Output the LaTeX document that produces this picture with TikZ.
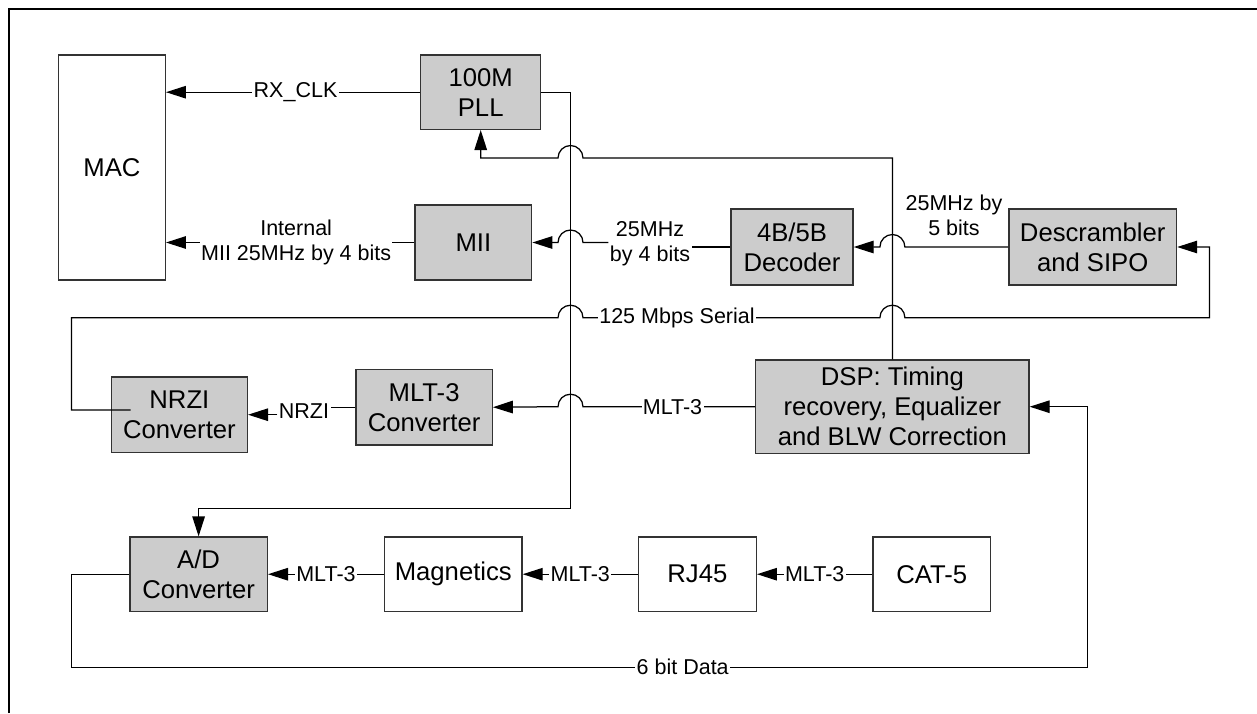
\documentclass[tikz,border=0pt]{standalone}
\usepackage{fontspec}
\setmainfont{Liberation Sans}
\usetikzlibrary{arrows.meta,calc}
\definecolor{boxfill}{HTML}{CCCCCC}
\tikzset{
  gbox/.style={draw=black!80, line width=0.8pt, fill=boxfill, align=center,
    font=\fontsize{15.4}{18}\selectfont, inner sep=0pt},
  wbox/.style={gbox, fill=white},
  conn/.style={line width=0.75pt},
  arr/.style={conn, -{Triangle[length=12pt,width=7.5pt]}},
  lbl/.style={fill=white, inner sep=0.8pt, font=\fontsize{12.9}{15}\selectfont, align=center},
}
\begin{document}
\begin{tikzpicture}[x=0.6pt,y=-0.6pt]
\useasboundingbox (0,0) rectangle (1257,713);
\draw[line width=1.3pt] (8.6,713) -- (8.6,9) -- (1257,9);

% boxes
\node[wbox, minimum width=64.1pt, minimum height=135pt] (mac) at (111.9,167.5) {MAC};
\node[gbox, minimum width=72pt, minimum height=44.6pt] (pll) at (480.7,92.2) {100M\\PLL};
\node[gbox, minimum width=70pt, minimum height=45pt] (mii) at (473.4,242.5) {MII};
\node[gbox, minimum width=73.2pt, minimum height=45.6pt] (dec) at (792,247) {4B/5B\\Decoder};
\node[gbox, minimum width=100.6pt, minimum height=45.6pt] (descr) at (1092.7,247) {Descrambler\\and SIPO};
\node[gbox, minimum width=81.6pt, minimum height=45.2pt] (nrzi) at (179.4,414.7) {NRZI\\Converter};
\node[gbox, minimum width=81.7pt, minimum height=45.4pt] (mlt) at (424.1,407.2) {MLT-3\\Converter};
\node[gbox, minimum width=163.9pt, minimum height=56pt] (dsp) at (892.4,406.7) {DSP: Timing\\recovery, Equalizer\\and BLW Correction};
\node[gbox, minimum width=82.5pt, minimum height=44.6pt] (ad) at (198.6,574.2) {A/D\\Converter};
\node[wbox, minimum width=82.5pt, minimum height=44.6pt] (mag) at (453.3,574.2) {Magnetics};
\node[wbox, minimum width=70.7pt, minimum height=44.6pt] (rj) at (697.4,574.2) {RJ45};
\node[wbox, minimum width=70.4pt, minimum height=44.6pt] (cat) at (931.8,574.2) {CAT-5};

\coordinate (nrziout) at (130.6,410);

% RX_CLK
\draw[arr] (pll.west) -- node[lbl,pos=0.49]{RX\_CLK} (mac.east |- pll.west);
% PLL to A/D
\draw[arr] (pll.east) -| (570.5,508.3) -| (ad.north);
% DSP to PLL
\draw[arr] (dsp.north) |- ($(570.5,158)+(7.5pt,0pt)$) arc[start angle=0,end angle=180,radius=7.5pt] -| (pll.south);
% MII to MAC
\draw[arr] (mii.west) -- node[lbl,pos=0.476]{Internal\\MII 25MHz by 4 bits} (mac.east |- mii.west);
% Decoder to MII
\node[lbl, fill=none] (l4) at (650,244) {25MHz\\by 4 bits};
\draw[conn] (dec.west) -- (dec.west -| l4.east);
\draw[arr] (l4.west |- mii.east) -- ($(570.5,242.5)+(7.5pt,0pt)$) arc[start angle=0,end angle=180,radius=7.5pt] -- (mii.east);
% Descrambler to Decoder
\draw[arr] (descr.west) -- ($(dsp.north |- dec.east)+(7.5pt,0pt)$) arc[start angle=0,end angle=180,radius=7.5pt] -- (dec.east);
\node[lbl, fill=none] (l5) at (954,215) {25MHz by\\5 bits};
% 125 Mbps serial
\draw[arr] (nrziout) -| (71.4,317.7) -- ($(570.5,317.7)+(-7.5pt,0pt)$) arc[start angle=180,end angle=0,radius=7.5pt]
  -- ($(dsp.north |- 0,317.7)+(-7.5pt,0pt)$) arc[start angle=180,end angle=0,radius=7.5pt] -| (1209.6,247) -- (descr.east);
\node[lbl] (l125) at (677,317.7) {125 Mbps Serial};
% MLT-3 to NRZI
\node[lbl, fill=none] (lnrzi) at (304,411) {NRZI};
\draw[conn] (mlt.west) -- (mlt.west -| lnrzi.east);
\draw[arr] (lnrzi.west |- nrzi.east) -- (nrzi.east);
% DSP to MLT-3
\draw[arr] (dsp.west) -- node[lbl,pos=0.48]{MLT-3} ($(570.5,406.7)+(7.5pt,0pt)$) arc[start angle=0,end angle=180,radius=7.5pt] -- (mlt.east);
% 6 bit data
\draw[arr] (ad.west) -| (71.4,667.3) -| (1087.2,406.7) -- (dsp.east);
\node[lbl] (l6) at (682.7,667.3) {6 bit Data};
% bottom chain
\draw[arr] (mag.west) -- node[lbl]{MLT-3} (ad.east);
\draw[arr] (rj.west) -- node[lbl]{MLT-3} (mag.east);
\draw[arr] (cat.west) -- node[lbl]{MLT-3} (rj.east);
\end{tikzpicture}
\end{document}
